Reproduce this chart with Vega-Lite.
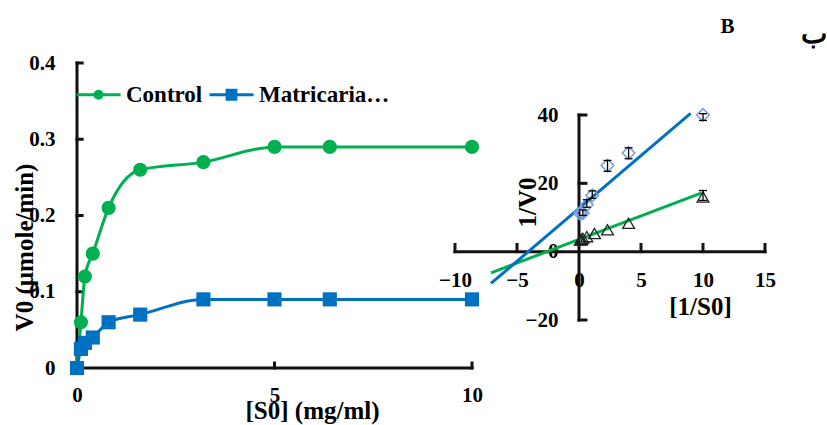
{
  "$schema": "https://vega.github.io/schema/vega-lite/v6.json",
  "width": 827,
  "height": 425,
  "autosize": {"type": "none"},
  "padding": 0,
  "background": "white",
  "config": {
    "view": {"stroke": null},
    "font": "Liberation Serif",
    "axis": {
      "grid": false,
      "domain": false,
      "ticks": false,
      "tickSize": 0,
      "zindex": 0,
      "labelFont": "Liberation Serif",
      "labelFontWeight": "bold",
      "labelFontSize": 21,
      "labelColor": "black",
      "labelFlush": false,
      "labelOverlap": false,
      "labelBound": false,
      "titleFont": "Liberation Serif",
      "titleFontWeight": "bold",
      "titleFontSize": 25,
      "titleColor": "black",
      "titleAlign": "center",
      "titleBaseline": "middle"
    }
  },
  "datasets": {
    "kinetics": [
      {"series": "Control", "S0": 0, "V0": 0},
      {"series": "Control", "S0": 0.1, "V0": 0.06},
      {"series": "Control", "S0": 0.2, "V0": 0.12},
      {"series": "Control", "S0": 0.4, "V0": 0.15},
      {"series": "Control", "S0": 0.8, "V0": 0.21},
      {"series": "Control", "S0": 1.6, "V0": 0.26},
      {"series": "Control", "S0": 3.2, "V0": 0.27},
      {"series": "Control", "S0": 5, "V0": 0.29},
      {"series": "Control", "S0": 6.4, "V0": 0.29},
      {"series": "Control", "S0": 10, "V0": 0.29},
      {"series": "Matricaria…", "S0": 0, "V0": 0},
      {"series": "Matricaria…", "S0": 0.1, "V0": 0.025},
      {"series": "Matricaria…", "S0": 0.2, "V0": 0.033},
      {"series": "Matricaria…", "S0": 0.4, "V0": 0.04},
      {"series": "Matricaria…", "S0": 0.8, "V0": 0.06},
      {"series": "Matricaria…", "S0": 1.6, "V0": 0.07},
      {"series": "Matricaria…", "S0": 3.2, "V0": 0.09},
      {"series": "Matricaria…", "S0": 5, "V0": 0.09},
      {"series": "Matricaria…", "S0": 6.4, "V0": 0.09},
      {"series": "Matricaria…", "S0": 10, "V0": 0.09}
    ],
    "lb": [
      {"series": "Control", "u": 0.1, "v": 3.4},
      {"series": "Control", "u": 0.16, "v": 3.5},
      {"series": "Control", "u": 0.2, "v": 3.6},
      {"series": "Control", "u": 0.31, "v": 3.9},
      {"series": "Control", "u": 0.63, "v": 4.4},
      {"series": "Control", "u": 1.25, "v": 5.3},
      {"series": "Control", "u": 2.3, "v": 6.4},
      {"series": "Control", "u": 4, "v": 8.3},
      {"series": "Control", "u": 10, "v": 16.0},
      {"series": "Matricaria…", "u": 0.1, "v": 11.1},
      {"series": "Matricaria…", "u": 0.16, "v": 11.6},
      {"series": "Matricaria…", "u": 0.31, "v": 11.3},
      {"series": "Matricaria…", "u": 0.63, "v": 13.7},
      {"series": "Matricaria…", "u": 1.07, "v": 16.5},
      {"series": "Matricaria…", "u": 2.3, "v": 25.2},
      {"series": "Matricaria…", "u": 4, "v": 28.9},
      {"series": "Matricaria…", "u": 10, "v": 40.0}
    ],
    "err": [
      {"u": 10, "lo": 15.0, "hi": 17.9},
      {"u": 0.31, "lo": 10.6, "hi": 12.2},
      {"u": 0.63, "lo": 13.0, "hi": 15.2},
      {"u": 1.07, "lo": 15.6, "hi": 17.8},
      {"u": 2.3, "lo": 23.5, "hi": 26.7},
      {"u": 4, "lo": 27.2, "hi": 30.4},
      {"u": 10, "lo": 38.4, "hi": 40.4}
    ],
    "lbfit": [
      {"series": "Control", "u": -7.1, "v": -6.2},
      {"series": "Control", "u": 9.9, "v": 17.2},
      {"series": "Matricaria…", "u": -7.1, "v": -9.3},
      {"series": "Matricaria…", "u": 9.0, "v": 40.5}
    ],
    "mainFrame": [
      {"seg": "yaxis", "a": 0, "b": 0},
      {"seg": "yaxis", "a": 0, "b": 0.4},
      {"seg": "xaxis", "a": 0, "b": 0},
      {"seg": "xaxis", "a": 10, "b": 0},
      {"seg": "ty1", "a": 0, "b": 0.1},
      {"seg": "ty1", "a": 0.13, "b": 0.1},
      {"seg": "ty2", "a": 0, "b": 0.2},
      {"seg": "ty2", "a": 0.13, "b": 0.2},
      {"seg": "ty3", "a": 0, "b": 0.3},
      {"seg": "ty3", "a": 0.13, "b": 0.3},
      {"seg": "ty4", "a": 0, "b": 0.4},
      {"seg": "ty4", "a": 0.13, "b": 0.4},
      {"seg": "tx5", "a": 5, "b": 0},
      {"seg": "tx5", "a": 5, "b": 0.0066},
      {"seg": "tx10", "a": 10, "b": 0},
      {"seg": "tx10", "a": 10, "b": 0.0066}
    ],
    "insetFrame": [
      {"seg": "yaxis", "a": 0, "b": -20},
      {"seg": "yaxis", "a": 0, "b": 40},
      {"seg": "xaxis", "a": -10, "b": 0},
      {"seg": "xaxis", "a": 15, "b": 0},
      {"seg": "ty-20", "a": 0, "b": -20},
      {"seg": "ty-20", "a": 0.56, "b": -20},
      {"seg": "ty20", "a": 0, "b": 20},
      {"seg": "ty20", "a": 0.56, "b": 20},
      {"seg": "ty40", "a": 0, "b": 40},
      {"seg": "ty40", "a": 0.56, "b": 40},
      {"seg": "tx-10", "a": -10, "b": 0},
      {"seg": "tx-10", "a": -10, "b": 2.1},
      {"seg": "tx-5", "a": -5, "b": 0},
      {"seg": "tx-5", "a": -5, "b": 2.1},
      {"seg": "tx5", "a": 5, "b": 0},
      {"seg": "tx5", "a": 5, "b": 2.1},
      {"seg": "tx10", "a": 10, "b": 0},
      {"seg": "tx10", "a": 10, "b": 2.1},
      {"seg": "tx15", "a": 15, "b": 0},
      {"seg": "tx15", "a": 15, "b": 2.1}
    ]
  },
  "layer": [
    {
      "data": {"name": "kinetics"},
      "encoding": {
        "x": {
          "field": "S0", "type": "quantitative",
          "scale": {"domain": [0, 10], "range": [77, 472], "nice": false, "zero": false},
          "axis": {
            "orient": "bottom", "offset": -57, "values": [0, 5, 10],
            "labelPadding": 27, "labelBaseline": "middle",
            "title": "[S0] (mg/ml)", "titleX": 312, "titleY": 42
          }
        },
        "y": {
          "field": "V0", "type": "quantitative",
          "scale": {"domain": [0, 0.4], "range": [368, 63], "nice": false, "zero": false},
          "axis": {
            "orient": "left", "offset": -77, "values": [0, 0.1, 0.2, 0.3, 0.4], "format": "~g",
            "labelPadding": 22,
            "title": "V0 (µmole/min)", "titleX": -53, "titleY": 247, "titleAngle": -90
          }
        },
        "color": {
          "field": "series", "type": "nominal",
          "scale": {"domain": ["Control", "Matricaria…"], "range": ["#00b050", "#0070c0"]},
          "legend": {
            "orient": "none", "legendX": 75, "legendY": 71, "direction": "horizontal",
            "title": null, "padding": 0, "symbolSize": 1936, "symbolStrokeWidth": 3, "symbolOpacity": 1,
            "labelFont": "Liberation Serif", "labelFontWeight": "bold", "labelFontSize": 23,
            "labelColor": "black", "labelOffset": 4, "columnPadding": 0, "labelLimit": 400
          }
        }
      },
      "layer": [
        {
          "data": {"name": "mainFrame"},
          "mark": {"type": "line", "strokeWidth": 3, "strokeCap": "square", "opacity": 1},
          "encoding": {
            "x": {"field": "a", "type": "quantitative"},
            "y": {"field": "b", "type": "quantitative"},
            "detail": {"field": "seg", "type": "nominal"},
            "color": {"value": "#111111"}
          }
        },
        {"mark": {"type": "line", "interpolate": "monotone", "strokeWidth": 3}},
        {
          "transform": [{"filter": "datum.series === 'Control'"}],
          "mark": {"type": "point", "shape": "circle", "filled": true, "size": 200, "opacity": 1, "strokeWidth": 0}
        },
        {
          "transform": [{"filter": "datum.series === 'Matricaria…'"}],
          "mark": {"type": "point", "shape": "square", "filled": true, "size": 200, "opacity": 1, "strokeWidth": 0}
        },
        {
          "mark": {"type": "point", "filled": true, "opacity": 0},
          "encoding": {
            "shape": {
              "field": "series", "type": "nominal",
              "scale": {
                "domain": ["Control", "Matricaria…"],
                "range": [
                  "M-1,0L1,0M0.16,0A0.16,0.16,0,1,1,-0.16,0A0.16,0.16,0,1,1,0.16,0Z",
                  "M-1,0L1,0M-0.2,-0.2L0.2,-0.2L0.2,0.2L-0.2,0.2Z"
                ]
              },
              "legend": {
                "orient": "none", "legendX": 75, "legendY": 71, "direction": "horizontal",
                "title": null, "padding": 0, "symbolSize": 1936, "symbolStrokeWidth": 3, "symbolOpacity": 1,
                "labelFont": "Liberation Serif", "labelFontWeight": "bold", "labelFontSize": 23,
                "labelColor": "black", "labelOffset": 4, "columnPadding": 0, "labelLimit": 400
              }
            }
          }
        }
      ]
    },
    {
      "encoding": {
        "x": {
          "field": "u", "type": "quantitative",
          "scale": {"domain": [-10, 15], "range": [455, 765], "nice": false, "zero": false},
          "axis": {
            "orient": "bottom", "offset": -173.3, "values": [-10, -5, 0, 5, 10, 15],
            "labelPadding": 28.5, "labelBaseline": "middle",
            "title": "[1/S0]", "titleX": 700, "titleY": 55
          }
        },
        "y": {
          "field": "v", "type": "quantitative",
          "scale": {"domain": [-20, 40], "range": [320, 115], "nice": false, "zero": false},
          "axis": {
            "orient": "left", "offset": -581.7, "values": [-20, 0, 20, 40],
            "labelPadding": 23.7,
            "title": "1/V0", "titleX": -54, "titleY": 202, "titleAngle": -90
          }
        }
      },
      "layer": [
        {
          "data": {"name": "insetFrame"},
          "mark": {"type": "line", "strokeWidth": 3, "strokeCap": "square", "color": "#111111", "opacity": 1},
          "encoding": {
            "x": {"field": "a", "type": "quantitative"},
            "y": {"field": "b", "type": "quantitative"},
            "detail": {"field": "seg", "type": "nominal"}
          }
        },
        {
          "data": {"name": "lbfit"},
          "transform": [{"filter": "datum.series === 'Control'"}],
          "mark": {"type": "line", "color": "#00b050", "strokeWidth": 3}
        },
        {
          "data": {"name": "lbfit"},
          "transform": [{"filter": "datum.series === 'Matricaria…'"}],
          "mark": {"type": "line", "color": "#0070c0", "strokeWidth": 3}
        },
        {
          "data": {"name": "lb"},
          "transform": [{"filter": "datum.series === 'Control'"}],
          "mark": {"type": "point", "shape": "triangle-up", "filled": false, "stroke": "#222222", "strokeWidth": 1.3, "size": 140, "opacity": 1}
        },
        {
          "data": {"name": "lb"},
          "transform": [{"filter": "datum.series === 'Matricaria…'"}],
          "mark": {"type": "point", "shape": "diamond", "filled": false, "stroke": "#7b9be0", "strokeWidth": 1.5, "size": 160, "opacity": 1}
        },
        {
          "data": {"name": "err"},
          "mark": {"type": "rule", "color": "black", "strokeWidth": 1.3},
          "encoding": {
            "y": {"field": "lo", "type": "quantitative"},
            "y2": {"field": "hi"}
          }
        },
        {
          "data": {"name": "err"},
          "mark": {"type": "tick", "orient": "horizontal", "color": "black", "size": 8, "thickness": 1.3, "opacity": 1},
          "encoding": {
            "y": {"field": "lo", "type": "quantitative"}
          }
        },
        {
          "data": {"name": "err"},
          "mark": {"type": "tick", "orient": "horizontal", "color": "black", "size": 8, "thickness": 1.3, "opacity": 1},
          "encoding": {
            "y": {"field": "hi", "type": "quantitative"}
          }
        }
      ]
    },
    {
      "data": {"name": "kinetics"},
      "mark": {"type": "point", "opacity": 0},
      "encoding": {
        "x": {
          "field": "S0", "type": "quantitative",
          "scale": {"domain": [0, 1], "range": [0, 827]},
          "axis": {
            "orient": "top", "offset": 0, "labels": false,
            "title": "B", "titleX": 727, "titleY": 26, "titleAngle": 0, "titleFontSize": 21
          }
        },
        "y": {
          "field": "V0", "type": "quantitative",
          "scale": {"domain": [0, 1], "range": [425, 0]},
          "axis": {
            "orient": "right", "offset": 0, "labels": false,
            "title": "ب", "titleX": -14, "titleY": 34, "titleAngle": 0, "titleFontSize": 28
          }
        }
      }
    }
  ],
  "resolve": {
    "scale": {"x": "independent", "y": "independent"},
    "axis": {"x": "independent", "y": "independent"}
  }
}
